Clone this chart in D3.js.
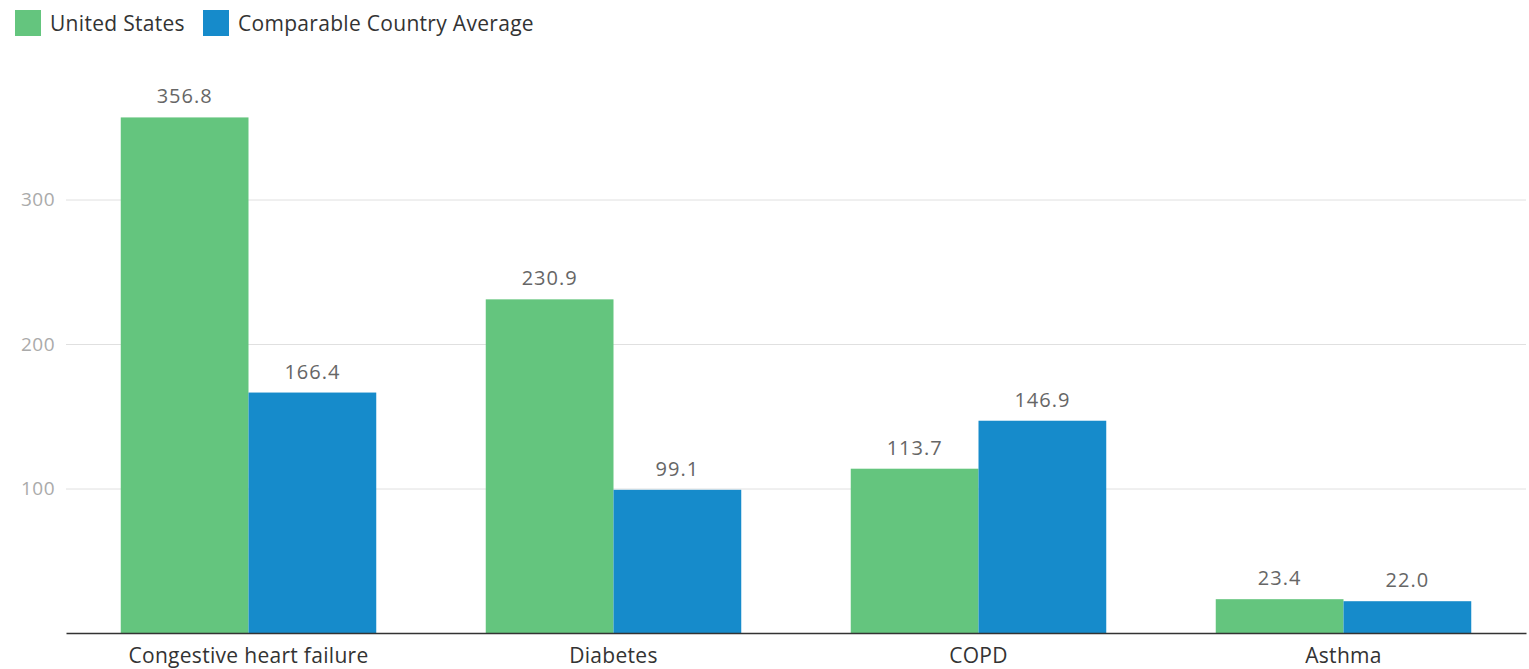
<!DOCTYPE html>
<html lang="en">
<head>
    <meta charset="UTF-8">
    <title>Hospital admissions</title>
    <script src="https://cdn.jsdelivr.net/npm/d3@7"></script>
    <style>
        html, body {
            margin: 0;
            padding: 0;
            width: 100%;
            height: 100%;
            overflow: hidden;
            background: #fff;
        }
        text {
            font-family: "Open Sans", Lato, sans-serif;
        }
    </style>
</head>
<body>
</body>
<script>
    let width = 1529;
    let height = 669;

    let categories = ['Congestive heart failure', 'Diabetes', 'COPD', 'Asthma'];
    let series = ['United States', 'Comparable Country Average'];
    let usValues = [356.8, 230.9, 113.7, 23.4];
    let ccaValues = [166.4, 99.1, 146.9, 22.0];
    let yTicks = [100, 200, 300];
    let colors = ['#64c57e', '#168bcb'];

    let margin = {left: 66, right: 3, top: 55, bottom: 36};

    let svg = d3.select('body').append('svg')
        .attr('width', width)
        .attr('height', height);

    let x = d3.scaleBand()
        .domain(categories)
        .range([margin.left, width - margin.right])
        .paddingInner(0.3)
        .paddingOuter(0.15);

    let xSub = d3.scaleBand()
        .domain(series)
        .range([0, x.bandwidth()]);

    let y = d3.scaleLinear()
        .domain([0, 400])
        .range([height - margin.bottom, margin.top]);

    // 网格线
    let yAxis = d3.axisLeft(y)
        .tickValues(yTicks)
        .tickSize(-(width - margin.right - margin.left))
        .tickPadding(11);

    let gy = svg.append('g')
        .attr('transform', `translate(${margin.left},0)`)
        .call(yAxis);
    gy.select('.domain').remove();
    gy.selectAll('.tick line').attr('stroke', '#e0e0e0');
    gy.selectAll('.tick text')
        .attr('fill', '#aaa')
        .attr('font-size', 19)
        .attr('letter-spacing', 0.5);

    let rows = categories.map((c, i) => ({cat: c, vals: [usValues[i], ccaValues[i]]}));

    let groups = svg.append('g').selectAll('g')
        .data(rows)
        .enter().append('g')
        .attr('transform', d => `translate(${x(d.cat)},0)`);

    groups.selectAll('rect')
        .data(d => d.vals.map((v, j) => ({s: series[j], v: v, j: j})))
        .enter().append('rect')
        .attr('x', d => xSub(d.s))
        .attr('width', xSub.bandwidth())
        .attr('y', d => y(d.v))
        .attr('height', d => y(0) - y(d.v))
        .attr('fill', d => colors[d.j]);

    groups.selectAll('text.val')
        .data(d => d.vals.map((v, j) => ({s: series[j], v: v})))
        .enter().append('text')
        .classed('val', true)
        .attr('x', d => xSub(d.s) + xSub.bandwidth() / 2)
        .attr('y', d => y(d.v) - 14)
        .attr('text-anchor', 'middle')
        .attr('fill', '#666')
        .attr('font-size', 20)
        .attr('letter-spacing', 1)
        .text(d => d.v.toFixed(1));

    // x轴
    let xAxis = d3.axisBottom(x).tickSize(0).tickPadding(15);
    let gx = svg.append('g')
        .attr('transform', `translate(0,${y(0)})`)
        .call(xAxis);
    gx.select('.domain')
        .attr('stroke', '#333')
        .attr('stroke-width', 1.5);
    gx.selectAll('.tick text')
        .attr('fill', '#333')
        .attr('font-size', 21)
        .attr('letter-spacing', 0.3);

    // 图例
    let legend = svg.append('g').attr('transform', 'translate(15,10)');
    let offsets = [0, 188];
    series.forEach((s, i) => {
        let g = legend.append('g').attr('transform', `translate(${offsets[i]},0)`);
        g.append('rect')
            .attr('width', 26)
            .attr('height', 26)
            .attr('fill', colors[i]);
        g.append('text')
            .attr('x', 35)
            .attr('y', 21)
            .attr('fill', '#333')
            .attr('font-size', 21)
            .attr('letter-spacing', 0.3)
            .text(s);
    });
</script>
</html>
